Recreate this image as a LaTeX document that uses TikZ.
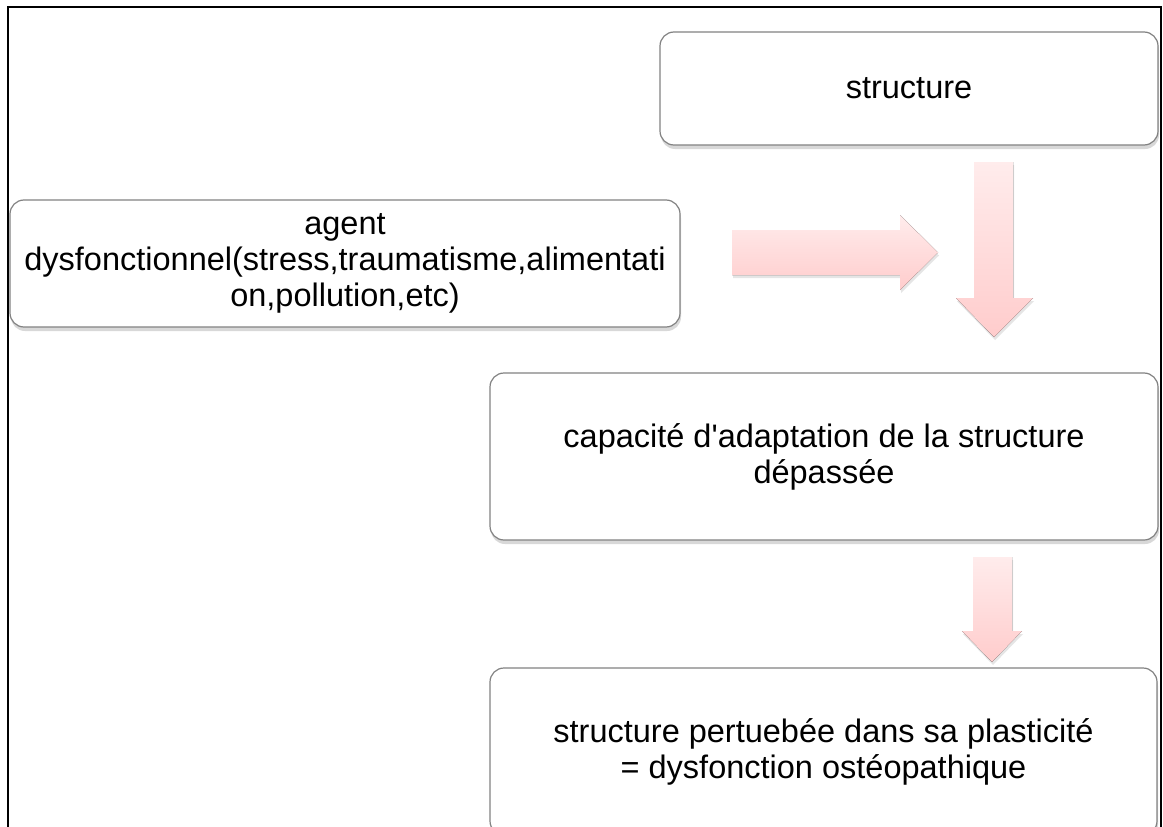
\documentclass[tikz,border=0pt]{standalone}
\usepackage{fontspec}
\setmainfont{Liberation Sans}
\usetikzlibrary{shadows}
\definecolor{boxline}{RGB}{130,130,130}
\definecolor{arrowtop}{RGB}{255,236,236}
\definecolor{arrowbot}{RGB}{255,204,204}
\tikzset{
  box/.style={draw=boxline, line width=1.2pt, fill=white, rounded corners=14pt,
    align=center, inner sep=0pt, font=\fontsize{32.5}{36}\selectfont,
    drop shadow={shadow xshift=1pt, shadow yshift=-4pt, opacity=0.3}},
  blockarrow/.style={top color=arrowtop, bottom color=arrowbot,
    drop shadow={shadow xshift=1pt, shadow yshift=-3pt, opacity=0.2}}
}

\begin{document}
\begin{tikzpicture}[x=1pt, y=-1pt]
        \clip (0,0) rectangle (1163,827);
        \fill[white] (0,0) rectangle (1163,827);
        \draw[line width=2pt] (8,830) -- (8,7) -- (1161,7) -- (1161,830);

        % the four boxes
        \node[box, minimum width=498pt, minimum height=113pt] (structure) at (909,88.5) {structure};
        \node[box, minimum width=670pt, minimum height=127pt] (agent) at (345,263.5)
            {agent\\dysfonctionnel(stress,traumatisme,alimentati\\on,pollution,etc)};
        \node[box, minimum width=668pt, minimum height=167pt] (adaptation) at (824,456.5)
            {capacité d\textquotesingle adaptation de la structure\\dépassée};
        \node[box, minimum width=667pt, minimum height=167pt] (dysfonction) at (823.5,751.5)
            {structure pertuebée dans sa plasticité\\= dysfonction ostéopathique};

        % block arrows
        \fill[blockarrow] (732,230) -- (900,230) -- (900,215) -- (938,252.5)
            -- (900,290) -- (900,275) -- (732,275) -- cycle;
        \fill[blockarrow] (974,162) -- (1013,162) -- (1013,298) -- (1033,298)
            -- (994,337) -- (956,298) -- (974,298) -- cycle;
        \fill[blockarrow] (973,557) -- (1012,557) -- (1012,631) -- (1022,631)
            -- (992,662) -- (962,631) -- (973,631) -- cycle;
\end{tikzpicture}
\end{document}
